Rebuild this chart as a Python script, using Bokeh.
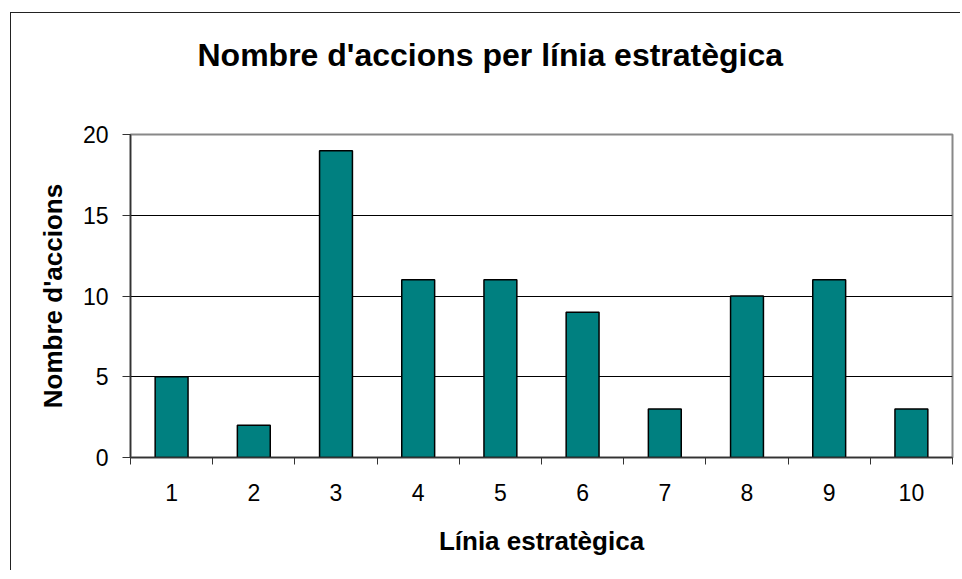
from bokeh.plotting import figure
from bokeh.models import FixedTicker, Range1d, Title
from bokeh.embed import file_html
from bokeh.resources import INLINE

categories = [1, 2, 3, 4, 5, 6, 7, 8, 9, 10]
values = [5, 2, 19, 11, 11, 9, 3, 10, 11, 3]
y_ticks = [0, 5, 10, 15, 20]
title_text = "Nombre d'accions per línia estratègica"
x_label = "Línia estratègica"
y_label = "Nombre d'accions"

FONT = "Liberation Sans"

p = figure(width=950, height=558, output_backend="svg", toolbar_location=None,
           x_range=Range1d(0.5, 10.5), y_range=Range1d(0, 20),
           min_border_left=119, min_border_right=9, min_border_top=121,
           min_border_bottom=114)
p.title = None
p.styles = {"margin-left": "10px", "margin-top": "12px",
            "border-left": "1px solid #222", "border-top": "1px solid #222"}

p.vbar(x=categories, top=values, width=0.4, fill_color="#008080",
       line_color="black", line_width=1.5)

# spacer between the title and the plot area
p.add_layout(Title(text=" ", text_font_size="1px", standoff=54), "above")
p.add_layout(Title(text=title_text, align="left", offset=67, standoff=10,
                   text_font=FONT, text_font_size="32px", text_font_style="bold",
                   text_color="black"), "above")

p.outline_line_color = "#888888"
p.outline_line_width = 2
p.background_fill_color = "white"
p.border_fill_color = "white"

p.xgrid.visible = False
p.ygrid.ticker = FixedTicker(ticks=[5, 10, 15])
p.ygrid.grid_line_color = "black"
p.ygrid.grid_line_width = 1

xa = p.xaxis[0]
xa.ticker = FixedTicker(ticks=categories, minor_ticks=[c - 0.5 for c in categories] + [10.5])
xa.major_tick_line_color = None
xa.major_tick_out = 0
xa.major_tick_in = 0
xa.minor_tick_out = 7
xa.minor_tick_in = 0
xa.minor_tick_line_color = "#333333"
xa.minor_tick_line_width = 1
xa.axis_line_color = "#333333"
xa.axis_line_width = 1.5
xa.major_label_standoff = 19
xa.major_label_text_font = FONT
xa.major_label_text_font_size = "23px"
xa.major_label_text_color = "black"
xa.axis_label = x_label
xa.axis_label_text_font = FONT
xa.axis_label_text_font_size = "26px"
xa.axis_label_text_font_style = "bold"
xa.axis_label_text_color = "black"
xa.axis_label_standoff = 22

ya = p.yaxis[0]
ya.ticker = FixedTicker(ticks=y_ticks)
ya.minor_tick_line_color = None
ya.major_tick_out = 8
ya.major_tick_in = 0
ya.major_tick_line_color = "#333333"
ya.axis_line_color = "#333333"
ya.axis_line_width = 1.5
ya.major_label_standoff = 14
ya.major_label_text_font = FONT
ya.major_label_text_font_size = "23px"
ya.major_label_text_color = "black"
ya.axis_label = y_label
ya.axis_label_text_font = FONT
ya.axis_label_text_font_size = "26px"
ya.axis_label_text_font_style = "bold"
ya.axis_label_text_color = "black"
ya.axis_label_standoff = 12

open("out.html", "w").write(file_html(p, INLINE))
